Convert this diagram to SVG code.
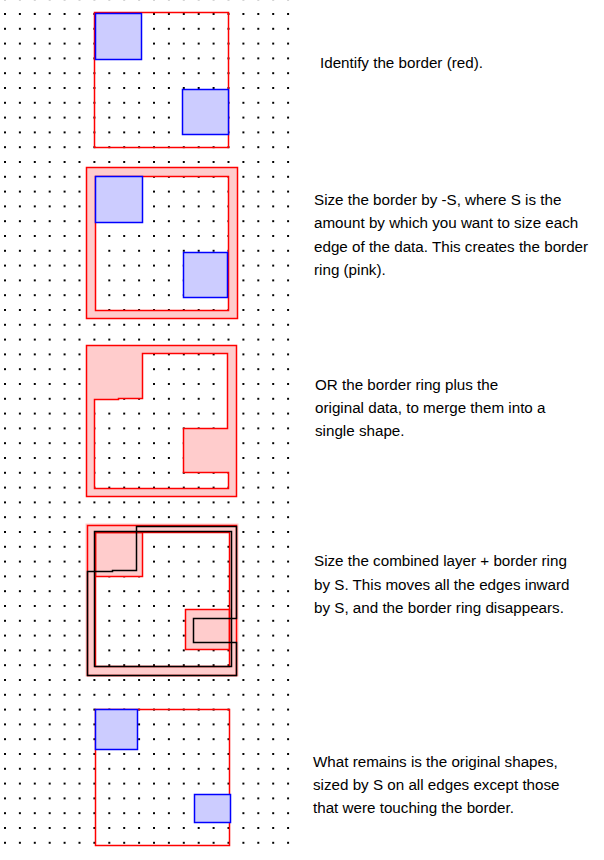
<svg xmlns="http://www.w3.org/2000/svg" width="604" height="860" viewBox="0 0 604 860">
<style>
  .txt { font-family: "Liberation Sans", Arial, sans-serif; font-size: 15.2px; fill: #000; }
  .red { fill: none; stroke: #FF0000; stroke-width: 1.5; }
  .blue { fill: #CCCCFF; stroke: #0000FF; stroke-width: 1.5; }
  .pink { fill: #FFCCCC; fill-rule: evenodd; }
  .pinkr { fill: #FFCCCC; fill-rule: evenodd; stroke: #FF0000; stroke-width: 1.5; }
  .blk { fill: none; stroke: #000; stroke-width: 1.5; }
</style>
<defs>
  <pattern id="dots" x="4" y="13" width="14.9" height="14.8" patternUnits="userSpaceOnUse">
    <rect x="0" y="0" width="2" height="2" fill="#000" shape-rendering="crispEdges"/>
  </pattern>
</defs>
<rect width="604" height="860" fill="#FFFFFF"/>
<rect id="grid" x="0" y="0" width="296" height="850" fill="url(#dots)"/>

<g id="step1">
  <rect class="red" x="94.5" y="12.5" width="134" height="135"/>
  <rect class="blue" x="95.5" y="13.5" width="46" height="46"/>
  <rect class="blue" x="182.5" y="89.5" width="46" height="45"/>
  <text class="txt" x="320" y="68.3">Identify the border (red).</text>
</g>

<g id="step2">
  <path class="pinkr" d="M86.5,167.5 H237.5 V318.5 H86.5 Z M95.5,176.5 V310.5 H228.5 V176.5 Z"/>
  <rect class="blue" x="95.5" y="176.5" width="47" height="46"/>
  <rect class="blue" x="183.5" y="252.5" width="44" height="45"/>
  <text class="txt" x="314" y="205">Size the border by -S, where S is the</text>
  <text class="txt" x="314" y="228.3">amount by which you want to size each</text>
  <text class="txt" x="314" y="251.7">edge of the data. This creates the border</text>
  <text class="txt" x="314" y="275">ring (pink).</text>
</g>

<g id="step3">
  <path class="pinkr" d="M86.5,345.5 H236.5 V496.5 H86.5 Z M142.5,353.5 H227.5 V428.5 H183.5 V472.5 H228.5 V488.5 H94.5 V399.5 H118.5 V398.5 H142.5 Z"/>
  <text class="txt" x="315" y="390">OR the border ring plus the</text>
  <text class="txt" x="315" y="413.3">original data, to merge them into a</text>
  <text class="txt" x="315" y="436.3">single shape.</text>
</g>

<g id="step4">
  <path class="pink" d="M85.5,523.5 H238.5 V676.5 H85.5 Z M142.5,532.5 H229.5 V609.5 H185.5 V649.5 H229.5 V666.5 H95.5 V576.5 H142.5 Z"/>
  <rect class="red" x="87.5" y="525.5" width="149" height="150"/>
  <rect class="red" x="95.5" y="532.5" width="134" height="134"/>
  <rect class="red" x="95.5" y="532.5" width="47" height="44"/>
  <rect class="red" x="185.5" y="609.5" width="44" height="40"/>
  <path class="blk" d="M87.5,675.5 V571.5 H112.5 V570.5 H136.5 V526.5 H236.5 V618.5 H193.5 V642.5 H236.5 V675.5 Z"/>
  <rect class="blk" x="94.5" y="531.5" width="137" height="135"/>
  <text class="txt" x="314" y="566">Size the combined layer + border ring</text>
  <text class="txt" x="314" y="589.5">by S. This moves all the edges inward</text>
  <text class="txt" x="314" y="612.9">by S, and the border ring disappears.</text>
</g>

<g id="step5">
  <rect class="red" x="95.5" y="709.5" width="134" height="136"/>
  <rect class="blue" x="95.5" y="709.5" width="42" height="40"/>
  <rect class="blue" x="194.5" y="794.5" width="36" height="28"/>
  <text class="txt" x="313" y="766.5">What remains is the original shapes,</text>
  <text class="txt" x="313" y="789.6">sized by S on all edges except those</text>
  <text class="txt" x="313" y="812.7">that were touching the border.</text>
</g>

<g id="connectors"></g>
</svg>
